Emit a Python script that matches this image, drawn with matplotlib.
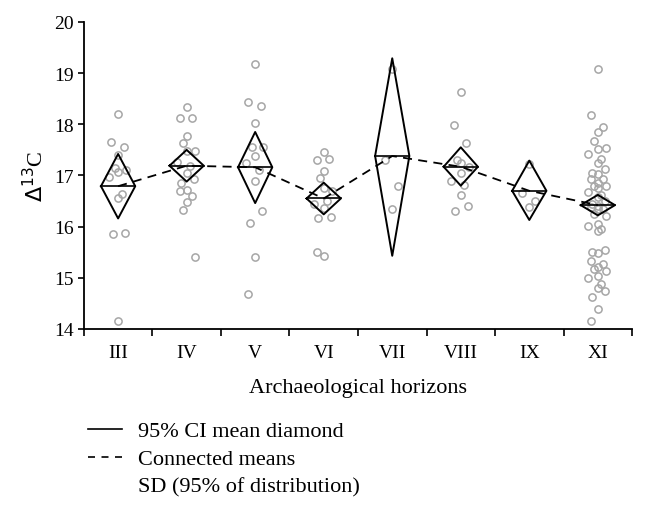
import numpy as np
import matplotlib
matplotlib.use("Agg")
import matplotlib.pyplot as plt
from matplotlib.lines import Line2D

plt.rcParams['font.family'] = ['Liberation Serif', 'DejaVu Serif']

horizons = ["III", "IV", "V", "VI", "VII", "VIII", "IX", "XI"]

# group means and 95% CI limits of the mean
means = [16.79, 17.19, 17.16, 16.55, 17.38, 17.17, 16.70, 16.42]
ci_low = [16.16, 16.88, 16.46, 16.24, 15.43, 16.80, 16.13, 16.22]
ci_high = [17.42, 17.50, 17.85, 16.86, 19.29, 17.55, 17.29, 16.62]

# individual measurements per horizon
pts_III = [18.21, 17.66, 17.56, 17.40, 17.14, 17.10, 17.07, 16.97, 16.63, 16.55,
           15.87, 15.86, 14.16]
pts_IV = [18.34, 18.13, 18.12, 17.77, 17.64, 17.48, 17.47, 17.27, 17.19, 17.05,
          16.93, 16.86, 16.72, 16.70, 16.59, 16.48, 16.32, 15.40]
pts_V = [19.17, 18.44, 18.36, 18.02, 17.55, 17.55, 17.38, 17.25, 17.10, 16.89,
         16.31, 16.07, 15.40, 14.68]
pts_VI = [17.45, 17.30, 17.32, 17.08, 16.96, 16.69, 16.75, 16.44, 16.50, 16.37,
          16.18, 16.16, 15.42, 15.50]
pts_VII = [19.08, 17.31, 16.80, 16.35]
pts_VIII = [18.63, 17.98, 17.64, 17.25, 17.30, 17.17, 17.04, 16.89, 16.82, 16.62,
            16.41, 16.30]
pts_IX = [17.23, 16.65, 16.50, 16.38]
pts_XI = [19.08, 18.18, 17.95, 17.84, 17.68, 17.53, 17.52, 17.42, 17.32, 17.25,
          17.12, 17.05, 17.03, 16.93, 16.93, 16.85, 16.80, 16.80, 16.75, 16.67,
          16.62, 16.57, 16.50, 16.45, 16.40, 16.38, 16.34, 16.34, 16.25, 16.20,
          16.05, 16.02, 15.95, 15.91, 15.55, 15.50, 15.48, 15.33, 15.27, 15.22,
          15.17, 15.14, 15.04, 15.00, 14.88, 14.80, 14.75, 14.62, 14.39, 14.16]

groups = [pts_III, pts_IV, pts_V, pts_VI, pts_VII, pts_VIII, pts_IX, pts_XI]

legend_labels = ["95% CI mean diamond", "Connected means", "SD (95% of distribution)"]

fig = plt.figure(figsize=(6.45, 5.1), dpi=100)
ax = fig.add_axes([0.130, 0.353, 0.850, 0.602])

x = np.arange(len(horizons))
jit = np.array([0.0, -0.1, 0.08, 0.0, -0.05, 0.12, 0.0, -0.14, 0.05, 0.0, 0.1, -0.08])

for i, vals in enumerate(groups):
    off = np.resize(jit, len(vals))
    ax.plot(x[i] + off, vals, 'o', mfc='none', mec='#a6a6a6', ms=5.2, mew=1.1, zorder=2)

hw = 0.25
for i in range(len(horizons)):
    xs = [x[i] - hw, x[i], x[i] + hw, x[i], x[i] - hw]
    ys = [means[i], ci_high[i], means[i], ci_low[i], means[i]]
    ax.plot(xs, ys, color='black', lw=1.4, zorder=3)
    ax.plot([x[i] - hw, x[i] + hw], [means[i], means[i]], color='black', lw=1.2, zorder=3)

ax.plot(x, means, color='black', lw=1.3, ls=(0, (5, 3.5)), zorder=3)

ax.set_xlim(-0.5, len(horizons) - 0.5)
ax.set_ylim(14, 20)
ax.set_yticks(range(14, 21))
ax.set_xticks(x)
ax.set_xticklabels(horizons)
ax.set_xticks(np.arange(-0.5, len(horizons)), minor=True)
ax.tick_params(axis='x', which='major', length=0, pad=11, labelsize=14)
ax.tick_params(axis='x', which='minor', length=5, width=1.2)
ax.tick_params(axis='y', length=4, width=1.2, labelsize=14)
for s in ['top', 'right']:
    ax.spines[s].set_visible(False)
for s in ['left', 'bottom']:
    ax.spines[s].set_linewidth(1.3)

ax.set_xlabel("Archaeological horizons", fontsize=16, labelpad=12)
ax.set_ylabel(r"$\Delta^{13}$C", fontsize=16, labelpad=4)

# legend drawn by hand in figure coordinates
W, H = 645.0, 510.0
rows = [430, 458, 485]
styles = ['-', (0, (4.2, 3.9)), None]
for yy, st, lab in zip(rows, styles, legend_labels):
    if st is not None:
        fig.add_artist(Line2D([88 / W, 122 / W], [1 - yy / H, 1 - yy / H],
                              transform=fig.transFigure, color='black', lw=1.2, ls=st))
    fig.text(138 / W, 1 - yy / H, lab, fontsize=16, va='center_baseline', ha='left')

fig.savefig("out.png", dpi=100)
